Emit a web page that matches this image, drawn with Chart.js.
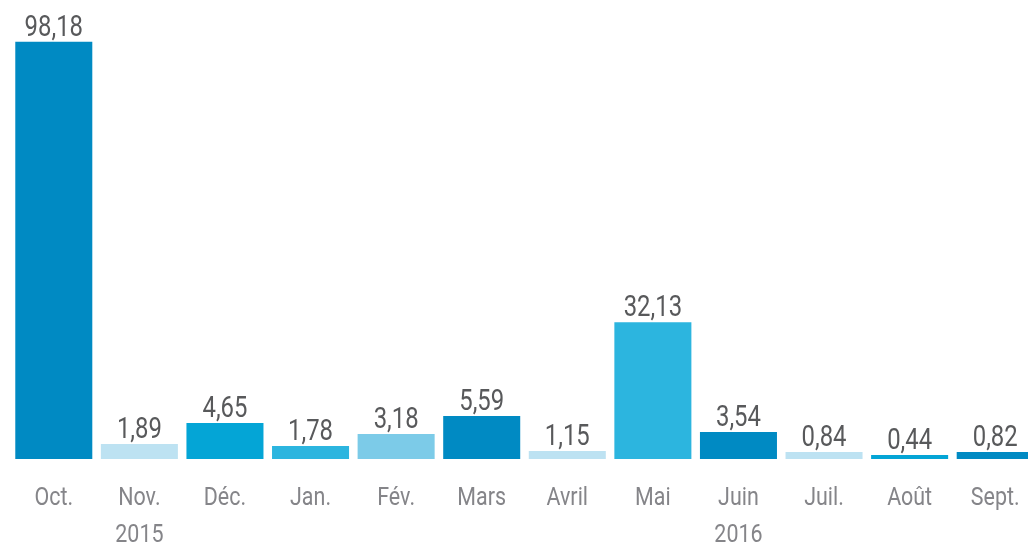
<!DOCTYPE html>
<html>
<head>
    <meta charset="UTF-8">
    <title>Mois</title>
    <script src="https://cdn.jsdelivr.net/npm/chart.js"></script>
    <style>
        html, body { margin: 0; padding: 0; background: #fff; overflow: hidden; }
        canvas { display: block; }
    </style>
</head>
<body>
    <canvas id="chart" width="1040" height="544"></canvas>

    <script>
        // données
        const months = [
            'Oct.', ['Nov.', '2015'], 'Déc.', 'Jan.', 'Fév.', 'Mars',
            'Avril', 'Mai', ['Juin', '2016'], 'Juil.', 'Août', 'Sept.'
        ];
        // valeurs affichées
        const values = [98.18, 1.89, 4.65, 1.78, 3.18, 5.59, 1.15, 32.13, 3.54, 0.84, 0.44, 0.82];
        const barHeights = [98.18, 3.53, 8.48, 3.06, 5.89, 10.1, 1.88, 32.2, 6.36, 1.65, 0.94, 1.65];
        const barColors = [
            '#008ac3', '#bde2f2', '#04a5d6', '#2cb5df', '#7ccbe8', '#008ac3',
            '#bde2f2', '#2cb5df', '#008ac3', '#bde2f2', '#04a5d6', '#008ac3'
        ];

        const fontFamily = 'Roboto, sans-serif';
        const squeeze = 0.81; // police étroite simulée

        function drawNarrow(ctx, txt, x, y) {
            ctx.save();
            ctx.translate(x, y);
            ctx.scale(squeeze, 1);
            ctx.fillText(txt, 0, 0);
            ctx.restore();
        }

        // étiquettes des valeurs et des mois
        const textLabels = {
            id: 'textLabels',
            afterDatasetsDraw(chart) {
                const ctx = chart.ctx;
                const meta = chart.getDatasetMeta(0);
                const xs = chart.scales.x;
                const bottom = chart.chartArea.bottom;
                ctx.save();
                ctx.textAlign = 'center';
                ctx.textBaseline = 'alphabetic';

                ctx.font = '29.5px ' + fontFamily;
                ctx.fillStyle = '#58595b';
                meta.data.forEach((bar, i) => {
                    const txt = values[i].toFixed(2).replace('.', ',');
                    drawNarrow(ctx, txt, bar.x, bar.y - 6);
                });

                ctx.font = '26.5px ' + fontFamily;
                ctx.fillStyle = '#858589';
                months.forEach((m, i) => {
                    const lines = Array.isArray(m) ? m : [m];
                    const x = xs.getPixelForTick(i);
                    lines.forEach((line, j) => {
                        drawNarrow(ctx, line, x, bottom + 46 + j * 37);
                    });
                });
                ctx.restore();
            }
        };

        new Chart(document.getElementById('chart'), {
            type: 'bar',
            data: {
                labels: months,
                datasets: [{
                    data: barHeights,
                    backgroundColor: barColors,
                    borderWidth: 0,
                    categoryPercentage: 1,
                    barPercentage: 0.9
                }]
            },
            options: {
                responsive: false,
                animation: false,
                events: [],
                layout: { padding: { left: 11, right: 2, top: 0, bottom: 0 } },
                plugins: {
                    legend: { display: false },
                    tooltip: { enabled: false }
                },
                scales: {
                    x: {
                        grid: { display: false, drawTicks: false },
                        border: { display: false },
                        ticks: { display: false },
                        afterFit(scale) { scale.height = 85; }
                    },
                    y: {
                        display: false,
                        min: 0,
                        max: 108
                    }
                }
            },
            plugins: [textLabels]
        });
    </script>
</body>
</html>
